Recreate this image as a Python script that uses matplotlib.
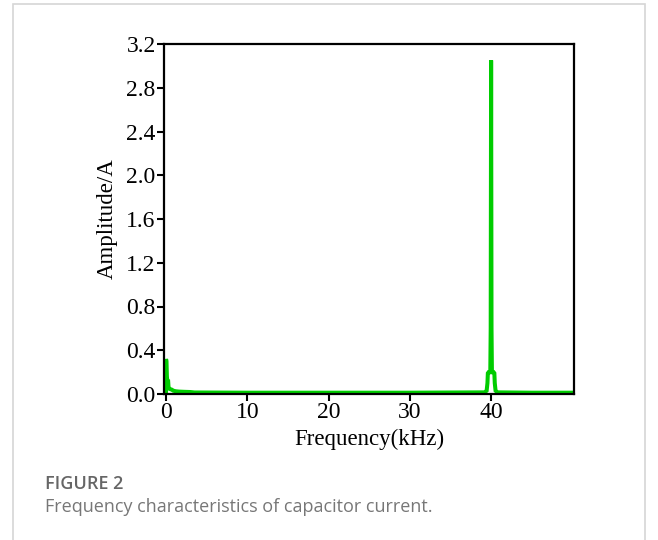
import matplotlib
matplotlib.use("Agg")
import matplotlib.pyplot as plt
from matplotlib.patches import Rectangle

# spectrum (kHz, A)
freq = [0.0, 0.0, 0.05, 0.1, 0.15, 0.2, 0.25, 0.3, 0.35, 0.5, 0.7, 0.9, 1.2, 1.6, 2.2, 3.0, 3.5,
        10.0, 20.0, 30.0, 39.2, 39.45, 39.55, 39.6, 39.7, 39.8, 39.9, 39.95, 40.0, 40.05, 40.1,
        40.2, 40.3, 40.4, 40.45, 40.55, 40.8, 45.0, 50.0]
amp = [0.0, 0.32, 0.30, 0.16, 0.13, 0.12, 0.13, 0.07, 0.05, 0.045, 0.04, 0.03, 0.025, 0.022,
       0.02, 0.018, 0.014, 0.012, 0.012, 0.012, 0.015, 0.03, 0.10, 0.19, 0.20, 0.20, 0.20, 0.6,
       3.05, 0.6, 0.20, 0.20, 0.20, 0.19, 0.10, 0.03, 0.015, 0.012, 0.012]

yticks = [0.0, 0.4, 0.8, 1.2, 1.6, 2.0, 2.4, 2.8, 3.2]
xticks = [0, 10, 20, 30, 40]

fig = plt.figure(figsize=(6.58, 5.4), dpi=100)
fig.patches.append(Rectangle((13 / 658, -0.1), 632 / 658, 1.1 - 4.5 / 540,
                             transform=fig.transFigure, fill=False,
                             edgecolor="#d6d6d6", linewidth=1.2))

ax = fig.add_axes([164 / 658, 1 - 394 / 540, 410 / 658, 350 / 540])
ax.plot(freq, amp, color="#00cc00", linewidth=2.9, solid_joinstyle="miter")
ax.set_xlim(-0.25, 50.2)
ax.set_ylim(0, 3.2)
ax.set_xticks(xticks)
ax.set_yticks(yticks)
ax.set_yticklabels([f"{v:.1f}" for v in yticks])

serif = ["Liberation Serif", "DejaVu Serif"]
for s in ax.spines.values():
    s.set_linewidth(1.6)
ax.tick_params(direction="out", length=5, width=1.5, labelsize=17, pad=1,
               top=False, right=False)
ax.tick_params(axis="x", pad=1)
for lab in ax.get_xticklabels() + ax.get_yticklabels():
    lab.set_family(serif)
ax.set_xlabel("Frequency(kHz)", family=serif, fontsize=16.5, labelpad=4)
ax.set_ylabel("Amplitude/A", family=serif, fontsize=16.5, labelpad=6)

fig.text(45 / 658, 1 - 489 / 540, "FIGURE 2", family=["Open Sans", "DejaVu Sans"],
         fontsize=13, fontweight="semibold", color="#666666")
fig.text(45 / 658, 1 - 512 / 540, "Frequency characteristics of capacitor current.",
         family=["Open Sans", "DejaVu Sans"], fontsize=13, color="#777777")

fig.savefig("out.png", dpi=100)
